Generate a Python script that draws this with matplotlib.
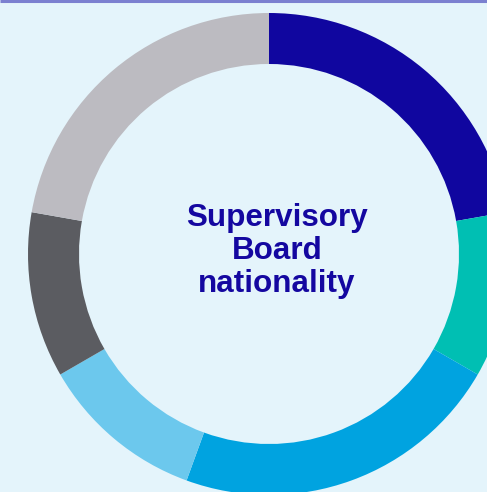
import matplotlib
matplotlib.use("Agg")
import matplotlib.pyplot as plt

categories = ["Segment 1", "Segment 2", "Segment 3", "Segment 4", "Segment 5", "Segment 6"]
values = [2, 1, 2, 1, 1, 2]
colors = ["#10069f", "#00bfb3", "#00a3e0", "#6cc8ed", "#5b5c61", "#bcbbc1"]
title = "Supervisory\nBoard\nnationality"

W, H = 487, 492
fig = plt.figure(figsize=(W / 100, H / 100), dpi=100)
fig.patch.set_facecolor("#e4f4fb")
ax = fig.add_axes([0, 0, 1, 1])
ax.set_facecolor("#e4f4fb")

cx, cy = 269, H - 254
R, r = 241, 190
ax.pie(values, colors=colors, startangle=90, counterclock=False,
       center=(cx, cy), radius=R, frame=True,
       wedgeprops=dict(width=R - r, linewidth=0))
ax.set_xlim(0, W)
ax.set_ylim(0, H)
ax.set_aspect("equal")
ax.axis("off")

ax.text(277, H - 251, title, ha="center", va="center", fontsize=22.6,
        fontweight="bold", color="#1407a0", family="Liberation Sans",
        linespacing=1.12)

# top border line
ax.plot([0, W], [H - 1, H - 1], color="#7b80d0", linewidth=2.2, solid_capstyle="butt")

fig.savefig("out.png", dpi=100, facecolor=fig.get_facecolor())
